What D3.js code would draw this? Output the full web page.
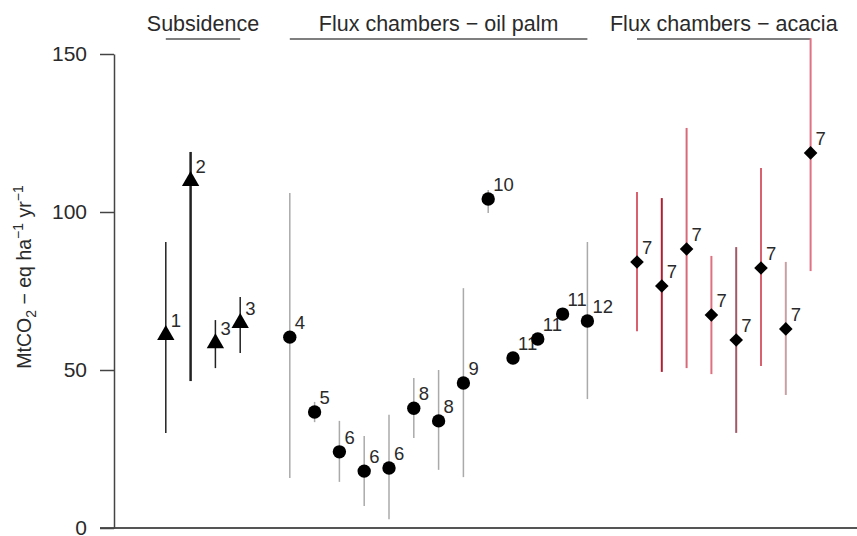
<!DOCTYPE html>
<html>
<head>
<meta charset="utf-8">
<script src="https://cdn.jsdelivr.net/npm/d3@7"></script>
<style>
  html, body { margin: 0; padding: 0; background: #fff; }
  svg { display: block; font-family: "Liberation Sans", Arial, Helvetica, sans-serif; }
</style>
</head>
<body>
<svg id="chart" width="857" height="536"></svg>
<script>
// ---------------- Data ----------------
const groupTitles = ["Subsidence", "Flux chambers \u2212 oil palm", "Flux chambers \u2212 acacia"];
const groupSlots = [[1, 4], [6, 18], [20, 27]];
const yTicks = [0, 50, 100, 150];

const subsidenceSlots = [1, 2, 3, 4];
const subsidenceRefs = ["1", "2", "3", "3"];
const subsidenceVals = [61.1, 109.8, 58.5, 64.9];
const subsidenceLow  = [30.1, 46.5, 50.6, 55.4];
const subsidenceHigh = [90.5, 119.0, 65.8, 73.1];

const oilPalmSlots = [6, 7, 8, 9, 10, 11, 12, 13, 14, 15, 16, 17, 18];
const oilPalmRefs = ["4", "5", "6", "6", "6", "8", "8", "9", "10", "11", "11", "11", "12"];
const oilPalmVals = [60.4, 36.7, 24.1, 18.0, 19.0, 37.9, 33.9, 45.9, 104.1, 53.8, 59.8, 67.7, 65.5];
const oilPalmLow  = [15.8, 33.5, 14.6, 7.0, 2.8, 28.5, 18.4, 16.1, 99.7, 51.8, 58.0, 66.0, 40.8];
const oilPalmHigh = [106.0, 39.9, 33.9, 29.1, 35.8, 47.5, 50.0, 75.9, 107.0, 55.6, 61.5, 69.5, 90.5];

const acaciaSlots = [20, 21, 22, 23, 24, 25, 26, 27];
const acaciaRefs = ["7", "7", "7", "7", "7", "7", "7", "7"];
const acaciaVals = [84.2, 76.6, 88.3, 67.4, 59.5, 82.3, 63.0, 118.7];
const acaciaLow  = [62.3, 49.4, 50.6, 48.7, 30.1, 51.3, 42.1, 81.3];
const acaciaHigh = [106.3, 104.4, 126.6, 86.1, 88.9, 113.9, 84.2, 155.0];

// ---------------- Styles ----------------
const acaciaColors = ["#d8606f", "#b01e32", "#d86a78", "#e0707e", "#a05a66", "#d8606f", "#c8a0a4", "#e07282"];
const textColor = "#2a2a2a";

// ---------------- Layout ----------------
const svg = d3.select("#chart");
const x = d3.scaleLinear().domain([0, 28]).range([141, 141 + 24.8 * 28]);
const y = d3.scaleLinear().domain([0, 150]).range([528, 54]);

// bottom line
svg.append("line")
  .attr("x1", 100).attr("x2", 857)
  .attr("y1", y(0)).attr("y2", y(0))
  .attr("stroke", "#555").attr("stroke-width", 2);

// y axis
const yAxis = d3.axisLeft(y).tickValues(yTicks).tickSize(14).tickSizeOuter(0).tickPadding(13);
const gy = svg.append("g").attr("transform", "translate(114,0)").call(yAxis);
gy.select(".domain").attr("stroke", "#444").attr("stroke-width", 1.5);
gy.selectAll(".tick line").attr("stroke", "#444").attr("stroke-width", 1.5);
gy.selectAll(".tick text")
  .attr("font-size", 21).attr("fill", textColor)
  .attr("font-family", "'Liberation Sans', Arial, sans-serif");

// y axis title
const yt = svg.append("text")
  .attr("transform", "translate(31,277) rotate(-90)")
  .attr("text-anchor", "middle")
  .attr("font-size", 19.5).attr("fill", textColor);
yt.append("tspan").text("MtCO");
yt.append("tspan").attr("font-size", 14).attr("dy", 5).text("2");
yt.append("tspan").attr("dy", -5).text(" \u2212 eq ha");
yt.append("tspan").attr("font-size", 14).attr("dy", -8).text("\u22121");
yt.append("tspan").attr("dy", 8).text(" yr");
yt.append("tspan").attr("font-size", 14).attr("dy", -8).text("\u22121");

// group headers
groupTitles.forEach((t, i) => {
  const [a, b] = groupSlots[i];
  svg.append("line")
    .attr("x1", x(a)).attr("x2", x(b))
    .attr("y1", 39).attr("y2", 39)
    .attr("stroke", "#555").attr("stroke-width", 1.5);
  svg.append("text")
    .attr("x", x((a + b) / 2)).attr("y", 31)
    .attr("text-anchor", "middle")
    .attr("font-size", 21.5).attr("fill", textColor)
    .text(t);
});

function drawSeries(slots, refs, vals, low, high, colorFn, widthFn, symbol) {
  const g = svg.append("g");
  slots.forEach((s, i) => {
    g.append("line")
      .attr("x1", x(s)).attr("x2", x(s))
      .attr("y1", y(low[i])).attr("y2", y(high[i]))
      .attr("stroke", colorFn(i)).attr("stroke-width", widthFn(i));
  });
  slots.forEach((s, i) => {
    g.append("path")
      .attr("d", symbol)
      .attr("transform", `translate(${x(s)},${y(vals[i])})`)
      .attr("fill", "#000");
    g.append("text")
      .attr("x", x(s) + 5).attr("y", y(vals[i]) - 8)
      .attr("font-size", 18.5).attr("fill", textColor)
      .text(refs[i]);
  });
}

const trianglePath = d3.symbol(d3.symbolTriangle, 130)();
const circlePath = d3.symbol(d3.symbolCircle, 140)();
const diamondPath = "M0,-6.8L6.8,0L0,6.8L-6.8,0Z";

drawSeries(subsidenceSlots, subsidenceRefs, subsidenceVals, subsidenceLow, subsidenceHigh,
  () => "#222", i => (i === 1 ? 2.5 : 1.5), trianglePath);
drawSeries(oilPalmSlots, oilPalmRefs, oilPalmVals, oilPalmLow, oilPalmHigh,
  () => "#aaa", () => 1.5, circlePath);
drawSeries(acaciaSlots, acaciaRefs, acaciaVals, acaciaLow, acaciaHigh,
  i => acaciaColors[i], () => 2, diamondPath);
</script>
</body>
</html>
